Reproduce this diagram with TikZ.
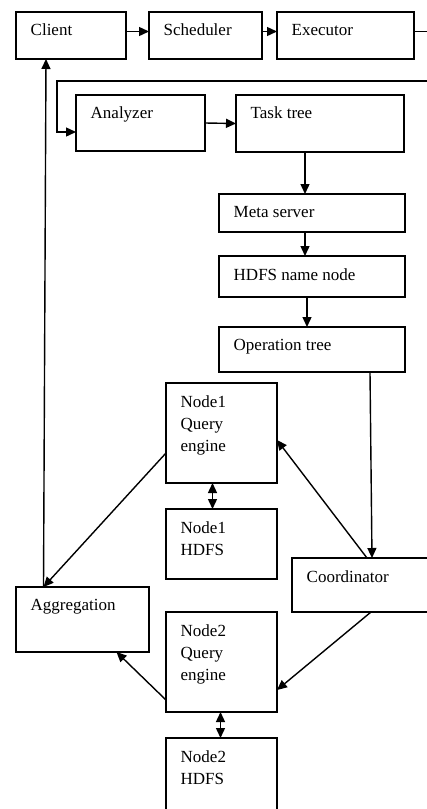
\documentclass[tikz,border=0pt]{standalone}
\usepackage{fontspec}
\setmainfont{Liberation Serif}
\usetikzlibrary{arrows.meta}

\begin{document}
\begin{tikzpicture}[x=1pt, y=-1pt, line width=1.4pt,
    >={Triangle[length=10pt,width=9pt]}]

    \tikzset{boxstyle/.style={draw, anchor=north west, inner sep=0, outer sep=0},
             txt/.style={anchor=north west, xshift=14pt, yshift=-11.5pt, inner sep=0,
                         align=left, font=\fontsize{17}{22}\selectfont}}

    \useasboundingbox (0,0) rectangle (427,809);
    \clip (0,0) rectangle (427,809);

    \node[boxstyle, minimum width=110, minimum height=47] (client) at ( 16, 12) {};
    \node[boxstyle, minimum width=113, minimum height=47] (sched) at (149, 12) {};
    \node[boxstyle, minimum width=137, minimum height=47] (exec) at (277, 12) {};
    \node[boxstyle, minimum width=129, minimum height=56] (analyzer) at ( 76, 95) {};
    \node[boxstyle, minimum width=168, minimum height=57] (task) at (236, 95) {};
    \node[boxstyle, minimum width=186, minimum height=38] (meta) at (219,194) {};
    \node[boxstyle, minimum width=186, minimum height=41] (namenode) at (219,256) {};
    \node[boxstyle, minimum width=186, minimum height=45] (optree) at (219,327) {};
    \node[boxstyle, minimum width=111, minimum height=100] (qe1) at (166,383) {};
    \node[boxstyle, minimum width=111, minimum height=70] (hdfs1) at (166,509) {};
    \node[boxstyle, minimum width=150, minimum height=54] (coord) at (292,558) {};
    \node[boxstyle, minimum width=133, minimum height=65] (agg) at ( 16,587) {};
    \node[boxstyle, minimum width=111, minimum height=100] (qe2) at (166,612) {};
    \node[boxstyle, minimum width=111, minimum height=90] (hdfs2) at (166,738) {};

    \node[txt] (t1) at (client.north west) {Client};
    \node[txt] (t2) at (sched.north west) {Scheduler};
    \node[txt] (t3) at (exec.north west) {Executor};
    \node[txt] (t4) at (analyzer.north west) {Analyzer};
    \node[txt] (t5) at (task.north west) {Task tree};
    \node[txt] (t6) at (meta.north west) {Meta server};
    \node[txt] (t7) at (namenode.north west) {HDFS name node};
    \node[txt] (t8) at (optree.north west) {Operation tree};
    \node[txt] (t9) at (qe1.north west) {Node1\\Query\\engine};
    \node[txt] (t10) at (hdfs1.north west) {Node1\\HDFS};
    \node[txt] (t11) at (coord.north west) {Coordinator};
    \node[txt] (t12) at (agg.north west) {Aggregation};
    \node[txt] (t13) at (qe2.north west) {Node2\\Query\\engine};
    \node[txt] (t14) at (hdfs2.north west) {Node2\\HDFS};

    \coordinate (loop) at (445,81);

    \draw[->] ([yshift=4pt]client.east) -- ([yshift=4pt]sched.west);
    \draw[->] ([yshift=4pt]sched.east) -- ([yshift=4pt]exec.west);
    \draw[->] ([yshift=4pt]exec.east) -| (loop) -- (57,81) |- ([yshift=-9pt]analyzer.west);
    \draw[->] (analyzer.east) -- (task.west);

    \draw[->] ([xshift=-15pt]task.south) -- ([xshift=-7pt]meta.north);
    \draw[->] ([xshift=-7pt]meta.south) -- ([xshift=-7pt]namenode.north);
    \draw[->] ([xshift=-5pt]namenode.south) -- ([xshift=-5pt]optree.north);
    \draw[->] ([xshift=58pt]optree.south) -- ([xshift=5pt]coord.north);

    \draw[->] (coord.north) -- ([yshift=-7pt]qe1.east);
    \draw[->] ([yshift=-20pt]qe1.west) -- ([xshift=-39pt]agg.north);
    \draw[->] ([xshift=-39pt]agg.north) -- ([xshift=-25pt]client.south);
    \draw[<->] ([xshift=-9pt]qe1.south) -- ([xshift=-9pt]hdfs1.north);

    \draw[->] ([xshift=4pt]coord.south) -- ([yshift=-28pt]qe2.east);
    \draw[->] ([yshift=-38pt]qe2.west) -- ([xshift=34pt]agg.south);
    \draw[<->] ([xshift=-1pt]qe2.south) -- ([xshift=-1pt]hdfs2.north);
\end{tikzpicture}
\end{document}
